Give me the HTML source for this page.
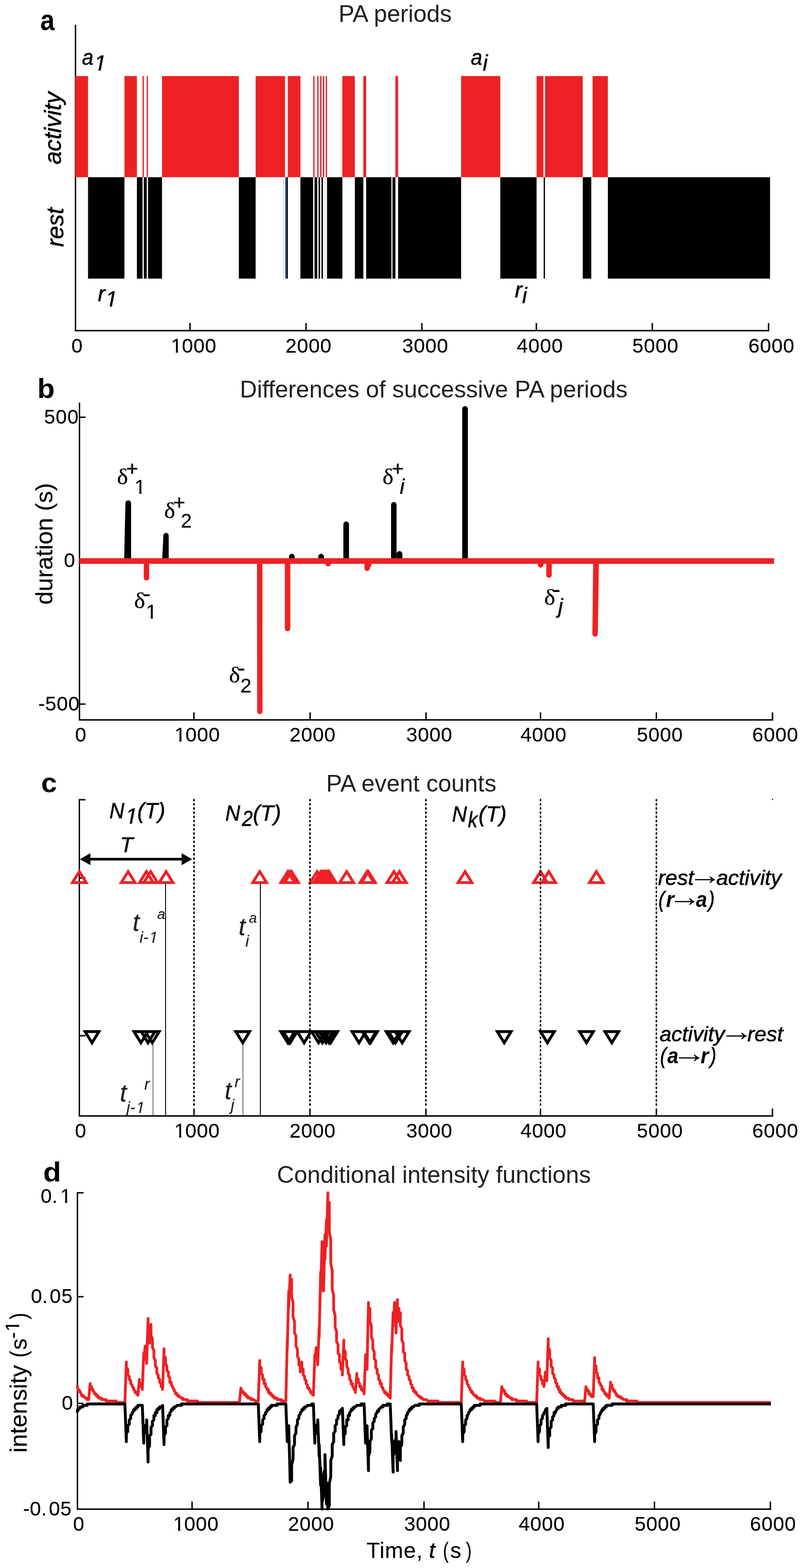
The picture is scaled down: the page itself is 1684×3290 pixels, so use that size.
<!DOCTYPE html>
<html lang="en"><head><meta charset="utf-8"><title>PA periods figure</title>
<style>
html,body{margin:0;padding:0;background:#fff}
svg{display:block}
text{font-family:"Liberation Sans", Arial, Helvetica, sans-serif;white-space:pre}
.sf{font-family:"Liberation Serif", "Times New Roman", serif}
</style></head>
<body>
<svg width="1684" height="3290" viewBox="0 0 1684 3290" shape-rendering="geometricPrecision">
<defs><clipPath id="c1"><path d="M-5 -80H60V-10H34.8V3H24.2V-10H-5Z"/></clipPath></defs>
<rect width="1684" height="3290" fill="#fff"/>
<g id="panel-a">
<line x1="158.3" y1="51.9" x2="158.3" y2="695.3" stroke="#000" stroke-width="2.9"/>
<line x1="156.85" y1="693.8" x2="1613.3" y2="693.8" stroke="#000" stroke-width="3"/>
<line x1="398.5" y1="677.8" x2="398.5" y2="693.8" stroke="#000" stroke-width="3"/>
<line x1="641.8" y1="677.8" x2="641.8" y2="693.8" stroke="#000" stroke-width="3"/>
<line x1="884.8" y1="677.8" x2="884.8" y2="693.8" stroke="#000" stroke-width="3"/>
<line x1="1124.8" y1="677.8" x2="1124.8" y2="693.8" stroke="#000" stroke-width="3"/>
<line x1="1368" y1="677.8" x2="1368" y2="693.8" stroke="#000" stroke-width="3"/>
<line x1="1611.8" y1="677.8" x2="1611.8" y2="693.8" stroke="#000" stroke-width="3"/>
<rect x="157.7" y="159.6" width="26.9" height="212.2" fill="#ed2124"/>
<rect x="261" y="159.6" width="26.1" height="212.2" fill="#ed2124"/>
<rect x="298.9" y="159.6" width="2.7" height="212.2" fill="#ed2124"/>
<rect x="307.7" y="159.6" width="2.7" height="212.2" fill="#ed2124"/>
<rect x="339.8" y="159.6" width="161.1" height="212.2" fill="#ed2124"/>
<rect x="536.1" y="159.6" width="61.6" height="212.2" fill="#ed2124"/>
<rect x="603.6" y="159.6" width="26.4" height="212.2" fill="#ed2124"/>
<rect x="656.7" y="159.6" width="2.9" height="212.2" fill="#ed2124"/>
<rect x="665.3" y="159.6" width="2.8" height="212.2" fill="#ed2124"/>
<rect x="671.3" y="159.6" width="2.9" height="212.2" fill="#ed2124"/>
<rect x="677.2" y="159.6" width="2.9" height="212.2" fill="#ed2124"/>
<rect x="683" y="159.6" width="2.8" height="212.2" fill="#ed2124"/>
<rect x="718" y="159.6" width="26.2" height="212.2" fill="#ed2124"/>
<rect x="762" y="159.6" width="5.9" height="212.2" fill="#ed2124"/>
<rect x="829.2" y="159.6" width="5.7" height="212.2" fill="#ed2124"/>
<rect x="967" y="159.6" width="82.2" height="212.2" fill="#ed2124"/>
<rect x="1125.3" y="159.6" width="14.3" height="212.2" fill="#ed2124"/>
<rect x="1142.9" y="159.6" width="79.2" height="212.2" fill="#ed2124"/>
<rect x="1242.7" y="159.6" width="32.1" height="212.2" fill="#ed2124"/>
<rect x="184.6" y="371.8" width="76.4" height="212.8" fill="#000"/>
<rect x="287.1" y="371.8" width="11.8" height="212.8" fill="#000"/>
<rect x="301.6" y="371.8" width="6.1" height="212.8" fill="#000"/>
<rect x="310.4" y="371.8" width="29.4" height="212.8" fill="#000"/>
<rect x="500.9" y="371.8" width="35.2" height="212.8" fill="#000"/>
<rect x="600.9" y="371.8" width="2.7" height="212.8" fill="#000"/>
<rect x="630" y="371.8" width="26.7" height="212.8" fill="#000"/>
<rect x="659.6" y="371.8" width="5.7" height="212.8" fill="#000"/>
<rect x="668.1" y="371.8" width="3.2" height="212.8" fill="#000"/>
<rect x="674.2" y="371.8" width="3" height="212.8" fill="#000"/>
<rect x="685.8" y="371.8" width="32.2" height="212.8" fill="#000"/>
<rect x="744.2" y="371.8" width="17.8" height="212.8" fill="#000"/>
<rect x="767.9" y="371.8" width="52.9" height="212.8" fill="#000"/>
<rect x="823.1" y="371.8" width="6.1" height="212.8" fill="#000"/>
<rect x="834.9" y="371.8" width="132.1" height="212.8" fill="#000"/>
<rect x="1049.2" y="371.8" width="76.1" height="212.8" fill="#000"/>
<rect x="1140.2" y="371.8" width="2.7" height="212.8" fill="#000"/>
<rect x="1222.1" y="371.8" width="17.9" height="212.8" fill="#000"/>
<rect x="1274.8" y="371.8" width="340.1" height="212.8" fill="#000"/>
<rect x="598" y="371.8" width="2.9" height="212.8" fill="#3953a4"/>
<rect x="594" y="371.8" width="0.7" height="212.8" fill="#9a9a9a"/>
<rect x="680.2" y="371.8" width="0.4" height="212.8" fill="#9a9a9a"/>
<rect x="682.6" y="371.8" width="0.4" height="212.8" fill="#9a9a9a"/>
<rect x="818.6" y="159.6" width="0.6" height="212.2" fill="#d5e6d0"/>
<text transform="translate(84.59 62.6) scale(0.89 1)" font-size="60.5" font-weight="bold">a</text>
<text x="709.99" y="45.9" font-size="49.86" fill="#231f20">PA periods</text>
<text transform="translate(128.3 345.12) rotate(-90)" font-size="49.82" font-style="italic" stroke="#000" stroke-width="0.7" stroke-linejoin="round">activity</text>
<text transform="translate(133 517.96) rotate(-90)" font-size="49.26" font-style="italic" stroke="#000" stroke-width="0.7" stroke-linejoin="round">rest</text>
<text transform="translate(172.04 136) scale(0.93 1)" font-size="46" font-style="italic" stroke="#000" stroke-width="0.7" stroke-linejoin="round">a</text>
<g transform="translate(195.27 147.8) skewX(-11) scale(0.4600)"><text font-size="100" clip-path="url(#c1)" stroke="#000" stroke-width="1.52">1</text></g>
<text transform="translate(987.54 136) scale(0.93 1)" font-size="46" font-style="italic" stroke="#000" stroke-width="0.7" stroke-linejoin="round">a</text>
<text x="1012.41" y="147.6" font-size="46" font-style="italic" stroke="#000" stroke-width="0.7" stroke-linejoin="round">i</text>
<text x="205.29" y="631.9" font-size="46" font-style="italic" stroke="#000" stroke-width="0.7" stroke-linejoin="round">r</text>
<g transform="translate(218.77 643.4) skewX(-11) scale(0.4600)"><text font-size="100" clip-path="url(#c1)" stroke="#000" stroke-width="1.52">1</text></g>
<text x="1079.79" y="624" font-size="46" font-style="italic" stroke="#000" stroke-width="0.7" stroke-linejoin="round">r</text>
<text x="1095.11" y="635.9" font-size="46" font-style="italic" stroke="#000" stroke-width="0.7" stroke-linejoin="round">i</text>
<text x="149.72" y="739.5" font-size="42" letter-spacing="0.9" stroke="#000" stroke-width="0.2" stroke-linejoin="round">0</text>
<g transform="translate(358.52 739.5) scale(0.4200)"><text font-size="100" clip-path="url(#c1)" stroke="#000" stroke-width="0.48">1</text></g>
<text x="381.47" y="739.5" font-size="42" letter-spacing="0.9" stroke="#000" stroke-width="0.2" stroke-linejoin="round">000</text>
<text x="598.7" y="739.5" font-size="42" letter-spacing="0.9" stroke="#000" stroke-width="0.2" stroke-linejoin="round">2000</text>
<text x="843.42" y="739.5" font-size="42" letter-spacing="0.9" stroke="#000" stroke-width="0.2" stroke-linejoin="round">3000</text>
<text x="1083.86" y="739.5" font-size="42" letter-spacing="0.9" stroke="#000" stroke-width="0.2" stroke-linejoin="round">4000</text>
<text x="1326.12" y="739.5" font-size="42" letter-spacing="0.9" stroke="#000" stroke-width="0.2" stroke-linejoin="round">5000</text>
<text x="1569.5" y="739.5" font-size="42" letter-spacing="0.9" stroke="#000" stroke-width="0.2" stroke-linejoin="round">6000</text>
</g>
<g id="panel-b">
<line x1="166.7" y1="844.8" x2="166.7" y2="1511.9" stroke="#000" stroke-width="2.9"/>
<line x1="165.25" y1="1510.4" x2="1621.5" y2="1510.4" stroke="#000" stroke-width="3"/>
<line x1="406.6" y1="1494.6" x2="406.6" y2="1510.4" stroke="#000" stroke-width="3"/>
<line x1="650.4" y1="1494.6" x2="650.4" y2="1510.4" stroke="#000" stroke-width="3"/>
<line x1="893.4" y1="1494.6" x2="893.4" y2="1510.4" stroke="#000" stroke-width="3"/>
<line x1="1133.5" y1="1494.6" x2="1133.5" y2="1510.4" stroke="#000" stroke-width="3"/>
<line x1="1376.5" y1="1494.6" x2="1376.5" y2="1510.4" stroke="#000" stroke-width="3"/>
<line x1="1620" y1="1494.6" x2="1620" y2="1510.4" stroke="#000" stroke-width="3"/>
<line x1="166.7" y1="875.5" x2="179.4" y2="875.5" stroke="#000" stroke-width="3"/>
<line x1="166.7" y1="1477.3" x2="179.4" y2="1477.3" stroke="#000" stroke-width="3"/>
<path d="M260.3 1177.1 L263 1055.75 A5.95 5.95 0 0 1 274.9 1055.75 L274.9 1177.1 Z" fill="#000"/>
<path d="M339.9 1177.1 L342.6 1123.7 A5.6 5.6 0 0 1 353.8 1123.7 L353.8 1177.1 Z" fill="#000"/>
<path d="M606 1177.1 L606 1167.85 A5.95 5.95 0 0 1 617.9 1167.85 L617.9 1177.1 Z" fill="#000"/>
<path d="M667.4 1177.1 L667.4 1167.85 A5.95 5.95 0 0 1 679.3 1167.85 L679.3 1177.1 Z" fill="#000"/>
<path d="M720.1 1177.1 L720.1 1100 A5.9 5.9 0 0 1 731.9 1100 L731.9 1177.1 Z" fill="#000"/>
<path d="M820.1 1177.1 L820.1 1059 A5.8 5.8 0 0 1 831.7 1059 L831.7 1177.1 Z" fill="#000"/>
<path d="M831.7 1177.1 L831.7 1162.35 A6.05 6.05 0 0 1 843.8 1162.35 L843.8 1177.1 Z" fill="#000"/>
<path d="M969.3 1177.1 L969.3 858.05 A5.95 5.95 0 0 1 981.2 858.05 L981.2 1177.1 Z" fill="#000"/>
<rect x="166.4" y="1171.2" width="1456.9" height="11.8" fill="#ed2124"/>
<path d="M301.5 1177.1 L301.5 1212.45 A5.65 5.65 0 0 0 312.8 1212.45 L312.8 1177.1 Z" fill="#ed2124"/>
<path d="M538.9 1177.1 L539.4 1492.95 A5.55 5.55 0 0 0 550.5 1492.95 L550.3 1177.1 Z" fill="#ed2124"/>
<path d="M597.4 1177.1 L597.4 1318.8 A5.7 5.7 0 0 0 608.8 1318.8 L608.8 1177.1 Z" fill="#ed2124"/>
<path d="M682.2 1177.1 L682.2 1182.55 A5.95 5.95 0 0 0 694.1 1182.55 L694.1 1177.1 Z" fill="#ed2124"/>
<path d="M764.3 1177.1 L764.3 1192.3 A5.7 5.7 0 0 0 775.7 1192.3 L775.7 1177.1 Z" fill="#ed2124"/>
<path d="M767.5 1177.1 L767.5 1185.3 A5.7 5.7 0 0 0 778.9 1185.3 L778.9 1177.1 Z" fill="#ed2124"/>
<path d="M1127.9 1177.1 L1127.9 1185.2 A5.8 5.8 0 0 0 1139.5 1185.2 L1139.5 1177.1 Z" fill="#ed2124"/>
<path d="M1145.5 1177.1 L1145.5 1206.4 A5.8 5.8 0 0 0 1157.1 1206.4 L1157.1 1177.1 Z" fill="#ed2124"/>
<path d="M1244 1177.1 L1242.3 1330.2 A5.7 5.7 0 0 0 1253.7 1330.2 L1256 1177.1 Z" fill="#ed2124"/>
<text transform="translate(78.22 834.7) scale(1.03 1)" font-size="58" font-weight="bold">b</text>
<text x="503" y="834.4" font-size="49.71" fill="#231f20">Differences of successive PA periods</text>
<text x="92.62" y="888.8" font-size="42" letter-spacing="0.9" stroke="#000" stroke-width="0.2" stroke-linejoin="round">500</text>
<text x="134.12" y="1190" font-size="42" letter-spacing="0.9" stroke="#000" stroke-width="0.2" stroke-linejoin="round">0</text>
<text x="80.31" y="1491.3" font-size="42" stroke="#000" stroke-width="0.2" stroke-linejoin="round">-</text>
<text x="94.72" y="1491.3" font-size="42" letter-spacing="0.9" stroke="#000" stroke-width="0.2" stroke-linejoin="round">500</text>
<text transform="translate(110 1268.75) rotate(-90)" font-size="50.49" stroke="#000" stroke-width="0.2" stroke-linejoin="round">duration (s)</text>
<text x="157.52" y="1555.9" font-size="42" letter-spacing="0.9" stroke="#000" stroke-width="0.2" stroke-linejoin="round">0</text>
<g transform="translate(366.02 1555.9) scale(0.4200)"><text font-size="100" clip-path="url(#c1)" stroke="#000" stroke-width="0.48">1</text></g>
<text x="388.97" y="1555.9" font-size="42" letter-spacing="0.9" stroke="#000" stroke-width="0.2" stroke-linejoin="round">000</text>
<text x="607.3" y="1555.9" font-size="42" letter-spacing="0.9" stroke="#000" stroke-width="0.2" stroke-linejoin="round">2000</text>
<text x="851.92" y="1555.9" font-size="42" letter-spacing="0.9" stroke="#000" stroke-width="0.2" stroke-linejoin="round">3000</text>
<text x="1091.46" y="1555.9" font-size="42" letter-spacing="0.9" stroke="#000" stroke-width="0.2" stroke-linejoin="round">4000</text>
<text x="1335.42" y="1555.9" font-size="42" letter-spacing="0.9" stroke="#000" stroke-width="0.2" stroke-linejoin="round">5000</text>
<text x="1577.5" y="1555.9" font-size="42" letter-spacing="0.9" stroke="#000" stroke-width="0.2" stroke-linejoin="round">6000</text>
<text transform="translate(245.25 1015.5) scale(1.07 1)" font-size="46" class="sf" stroke="#000" stroke-width="0.3" stroke-linejoin="round">δ</text>
<text x="264.86" y="997.64" font-size="43" stroke="#000" stroke-width="0.6" stroke-linejoin="round">+</text>
<g transform="translate(282.02 1036.1) scale(0.4200)"><text font-size="100" clip-path="url(#c1)" stroke="#000" stroke-width="0.48">1</text></g>
<text transform="translate(344.15 1086.5) scale(1.07 1)" font-size="46" class="sf" stroke="#000" stroke-width="0.3" stroke-linejoin="round">δ</text>
<text x="363.36" y="1068.64" font-size="43" stroke="#000" stroke-width="0.6" stroke-linejoin="round">+</text>
<text x="379.1" y="1107.1" font-size="42" stroke="#000" stroke-width="0.2" stroke-linejoin="round">2</text>
<text transform="translate(281.15 1275.7) scale(1.07 1)" font-size="46" class="sf" stroke="#000" stroke-width="0.3" stroke-linejoin="round">δ</text>
<text x="298.86" y="1262.93" font-size="52">-</text>
<g transform="translate(305.92 1297.7) scale(0.4200)"><text font-size="100" clip-path="url(#c1)" stroke="#000" stroke-width="0.48">1</text></g>
<text transform="translate(480.25 1432.1) scale(1.07 1)" font-size="46" class="sf" stroke="#000" stroke-width="0.3" stroke-linejoin="round">δ</text>
<text x="497.26" y="1418.83" font-size="52">-</text>
<text x="503.9" y="1453.4" font-size="42" stroke="#000" stroke-width="0.2" stroke-linejoin="round">2</text>
<text transform="translate(801.95 1016.1) scale(1.07 1)" font-size="46" class="sf" stroke="#000" stroke-width="0.3" stroke-linejoin="round">δ</text>
<text x="821.76" y="998.24" font-size="43" stroke="#000" stroke-width="0.6" stroke-linejoin="round">+</text>
<text x="838.55" y="1035.6" font-size="43.5" font-style="italic" stroke="#000" stroke-width="0.7" stroke-linejoin="round">i</text>
<text transform="translate(1141.25 1268.5) scale(1.07 1)" font-size="46" class="sf" stroke="#000" stroke-width="0.3" stroke-linejoin="round">δ</text>
<text x="1158.36" y="1253.73" font-size="52">-</text>
<text x="1170.79" y="1286.6" font-size="43.5" font-style="italic" stroke="#000" stroke-width="0.7" stroke-linejoin="round">j</text>
</g>
<g id="panel-c">
<line x1="166.4" y1="1676.5" x2="166.4" y2="2343.1" stroke="#000" stroke-width="2.9"/>
<line x1="164.95" y1="2341.6" x2="1621.5" y2="2341.6" stroke="#000" stroke-width="3"/>
<line x1="406.8" y1="2325.9" x2="406.8" y2="2341.6" stroke="#000" stroke-width="3"/>
<line x1="650" y1="2325.9" x2="650" y2="2341.6" stroke="#000" stroke-width="3"/>
<line x1="893.2" y1="2325.9" x2="893.2" y2="2341.6" stroke="#000" stroke-width="3"/>
<line x1="1133.5" y1="2325.9" x2="1133.5" y2="2341.6" stroke="#000" stroke-width="3"/>
<line x1="1376.5" y1="2325.9" x2="1376.5" y2="2341.6" stroke="#000" stroke-width="3"/>
<line x1="1620" y1="2325.9" x2="1620" y2="2341.6" stroke="#000" stroke-width="3"/>
<line x1="166.4" y1="1678" x2="179.3" y2="1678" stroke="#000" stroke-width="3"/>
<line x1="166.4" y1="1842.1" x2="179.3" y2="1842.1" stroke="#000" stroke-width="3"/>
<line x1="166.4" y1="2173.1" x2="179.3" y2="2173.1" stroke="#000" stroke-width="3"/>
<rect x="1618.9" y="1676.2" width="2.2" height="2.2" fill="#000"/>
<line x1="347.2" y1="1850.5" x2="347.2" y2="2341" stroke="#000" stroke-width="1.9"/>
<line x1="546" y1="1850.5" x2="546" y2="2341" stroke="#000" stroke-width="1.9"/>
<line x1="320.8" y1="2190" x2="320.8" y2="2341" stroke="#222" stroke-width="1.2"/>
<line x1="509.5" y1="2190" x2="509.5" y2="2341" stroke="#222" stroke-width="1.2"/>
<path d="M166.4 1828.65L180.9 1851.95L151.9 1851.95ZM268.7 1828.65L283.2 1851.95L254.2 1851.95ZM307 1828.65L321.5 1851.95L292.5 1851.95ZM316 1828.65L330.5 1851.95L301.5 1851.95ZM348.3 1828.65L362.8 1851.95L333.8 1851.95ZM544.6 1828.65L559.1 1851.95L530.1 1851.95ZM603.5 1828.65L618 1851.95L589 1851.95ZM607.5 1828.65L622 1851.95L593 1851.95ZM611.5 1828.65L626 1851.95L597 1851.95ZM665 1828.65L679.5 1851.95L650.5 1851.95ZM672.6 1828.65L687.1 1851.95L658.1 1851.95ZM676.5 1828.65L691 1851.95L662 1851.95ZM680.2 1828.65L694.7 1851.95L665.7 1851.95ZM683.8 1828.65L698.3 1851.95L669.3 1851.95ZM687.7 1828.65L702.2 1851.95L673.2 1851.95ZM690.2 1828.65L704.7 1851.95L675.7 1851.95ZM727 1828.65L741.5 1851.95L712.5 1851.95ZM769.6 1828.65L784.1 1851.95L755.1 1851.95ZM772.6 1828.65L787.1 1851.95L758.1 1851.95ZM826 1828.65L840.5 1851.95L811.5 1851.95ZM837.5 1828.65L852 1851.95L823 1851.95ZM975.2 1828.65L989.7 1851.95L960.7 1851.95ZM1133.5 1828.65L1148 1851.95L1119 1851.95ZM1150.8 1828.65L1165.3 1851.95L1136.3 1851.95ZM1250.6 1828.65L1265.1 1851.95L1236.1 1851.95Z" fill="none" stroke="#ed2124" stroke-width="5.8" stroke-linejoin="miter" stroke-miterlimit="10"/>
<line x1="406.8" y1="1677.5" x2="406.8" y2="2324.5" stroke="#000" stroke-width="3.2" stroke-dasharray="2.6 6.15" stroke-linecap="round"/>
<line x1="650" y1="1677.5" x2="650" y2="2324.5" stroke="#000" stroke-width="3.2" stroke-dasharray="2.6 6.15" stroke-linecap="round"/>
<line x1="893.2" y1="1677.5" x2="893.2" y2="2324.5" stroke="#000" stroke-width="3.2" stroke-dasharray="2.6 6.15" stroke-linecap="round"/>
<line x1="1133.5" y1="1677.5" x2="1133.5" y2="2324.5" stroke="#000" stroke-width="3.2" stroke-dasharray="2.6 6.15" stroke-linecap="round"/>
<line x1="1376.5" y1="1677.5" x2="1376.5" y2="2324.5" stroke="#000" stroke-width="3.2" stroke-dasharray="2.6 6.15" stroke-linecap="round"/>
<path d="M192.9 2188L178.4 2164.6L207.4 2164.6ZM295.5 2188L281 2164.6L310 2164.6ZM310.4 2188L295.9 2164.6L324.9 2164.6ZM319.3 2188L304.8 2164.6L333.8 2164.6ZM509.1 2188L494.6 2164.6L523.6 2164.6ZM603.4 2188L588.9 2164.6L617.9 2164.6ZM606.4 2188L591.9 2164.6L620.9 2164.6ZM608.6 2188L594.1 2164.6L623.1 2164.6ZM637.7 2188L623.2 2164.6L652.2 2164.6ZM668 2188L653.5 2164.6L682.5 2164.6ZM676.2 2188L661.7 2164.6L690.7 2164.6ZM683.8 2188L669.3 2164.6L698.3 2164.6ZM689.8 2188L675.3 2164.6L704.3 2164.6ZM693.5 2188L679 2164.6L708 2164.6ZM752.8 2188L738.3 2164.6L767.3 2164.6ZM774.5 2188L760 2164.6L789 2164.6ZM777 2188L762.5 2164.6L791.5 2164.6ZM824.3 2188L809.8 2164.6L838.8 2164.6ZM829.3 2188L814.8 2164.6L843.8 2164.6ZM843.5 2188L829 2164.6L858 2164.6ZM1057.4 2188L1042.9 2164.6L1071.9 2164.6ZM1148 2188L1133.5 2164.6L1162.5 2164.6ZM1229.9 2188L1215.4 2164.6L1244.4 2164.6ZM1283 2188L1268.5 2164.6L1297.5 2164.6Z" fill="none" stroke="#000" stroke-width="6.0" stroke-linejoin="miter" stroke-miterlimit="10"/>
<path d="M167.5 1802.7L189.6 1790.2L189.6 1815.3ZM402.9 1802.7L380.9 1790.2L380.9 1815.3Z" fill="#000"/>
<line x1="188" y1="1802.7" x2="382" y2="1802.7" stroke="#000" stroke-width="5.6"/>
<text transform="translate(86.31 1661.6) scale(1.03 1)" font-size="58" font-weight="bold">c</text>
<text x="684.08" y="1660.7" font-size="49.88" fill="#231f20">PA event counts</text>
<text transform="translate(229.6 1717.1) scale(0.94 1)" font-size="46" font-style="italic" stroke="#000" stroke-width="0.7" stroke-linejoin="round">N</text>
<g transform="translate(260.77 1728.3) skewX(-11) scale(0.4600)"><text font-size="100" clip-path="url(#c1)" stroke="#000" stroke-width="1.52">1</text></g>
<text x="287.92" y="1717.1" font-size="46" font-style="italic" stroke="#000" stroke-width="0.7" stroke-linejoin="round">(T)</text>
<text transform="translate(472.5 1722.2) scale(0.94 1)" font-size="46" font-style="italic" stroke="#000" stroke-width="0.7" stroke-linejoin="round">N</text>
<text transform="translate(507.5 1733.4) scale(0.88 1)" font-size="46" font-style="italic" stroke="#000" stroke-width="0.7" stroke-linejoin="round">2</text>
<text x="530.52" y="1722.2" font-size="46" font-style="italic" stroke="#000" stroke-width="0.7" stroke-linejoin="round">(T)</text>
<text transform="translate(947.9 1724.4) scale(0.94 1)" font-size="46" font-style="italic" stroke="#000" stroke-width="0.7" stroke-linejoin="round">N</text>
<text transform="translate(981.29 1735.6) scale(0.88 1)" font-size="46" font-style="italic" stroke="#000" stroke-width="0.7" stroke-linejoin="round">k</text>
<text x="1003.62" y="1724.4" font-size="46" font-style="italic" stroke="#000" stroke-width="0.7" stroke-linejoin="round">(T)</text>
<text x="251.65" y="1788.1" font-size="45" font-style="italic" stroke="#000" stroke-width="0.7" stroke-linejoin="round">T</text>
<text x="278.2" y="1953.4" font-size="51" font-style="italic" fill="#231f20" stroke="#231f20" stroke-width="0.4" stroke-linejoin="round">t</text>
<text x="292.81" y="1977.7" font-size="33" font-style="italic" fill="#231f20" stroke="#231f20" stroke-width="0.3" stroke-linejoin="round">i-</text>
<g transform="translate(311.13 1977.7) skewX(-11) scale(0.3300)"><text font-size="100" clip-path="url(#c1)" fill="#231f20" stroke="#231f20" stroke-width="0.91">1</text></g>
<text x="329.72" y="1927.6" font-size="30" font-style="italic" fill="#231f20" stroke="#231f20" stroke-width="0.3" stroke-linejoin="round">a</text>
<text x="500.6" y="1961.6" font-size="51" font-style="italic" fill="#231f20" stroke="#231f20" stroke-width="0.4" stroke-linejoin="round">t</text>
<text x="514.71" y="1985.9" font-size="33" font-style="italic" fill="#231f20" stroke="#231f20" stroke-width="0.3" stroke-linejoin="round">i</text>
<text x="521.93" y="1936.3" font-size="30" font-style="italic" fill="#231f20" stroke="#231f20" stroke-width="0.3" stroke-linejoin="round">a</text>
<text x="251.51" y="2311.3" font-size="51" font-style="italic" fill="#231f20" stroke="#231f20" stroke-width="0.4" stroke-linejoin="round">t</text>
<text x="265.31" y="2335.3" font-size="33" font-style="italic" fill="#231f20" stroke="#231f20" stroke-width="0.3" stroke-linejoin="round">j-</text>
<g transform="translate(283.63 2335.3) skewX(-11) scale(0.3300)"><text font-size="100" clip-path="url(#c1)" fill="#231f20" stroke="#231f20" stroke-width="0.91">1</text></g>
<text x="302.72" y="2286.1" font-size="33" font-style="italic" fill="#231f20" stroke="#231f20" stroke-width="0.3" stroke-linejoin="round">r</text>
<text x="471.2" y="2306.1" font-size="51" font-style="italic" fill="#231f20" stroke="#231f20" stroke-width="0.4" stroke-linejoin="round">t</text>
<text x="484.01" y="2329.7" font-size="33" font-style="italic" fill="#231f20" stroke="#231f20" stroke-width="0.3" stroke-linejoin="round">j</text>
<text x="492.12" y="2280.9" font-size="33" font-style="italic" fill="#231f20" stroke="#231f20" stroke-width="0.3" stroke-linejoin="round">r</text>
<text x="1380.11" y="1857.2" font-size="45.1" font-style="italic" stroke="#000" stroke-width="0.7" stroke-linejoin="round">rest</text>
<text transform="translate(1443.55 1855.38) scale(1.24 1)" font-size="57">→</text>
<text x="1502.19" y="1857.2" font-size="44.73" font-style="italic" stroke="#000" stroke-width="0.7" stroke-linejoin="round">activity</text>
<text transform="translate(1380.8 1903.3) scale(0.87 1)" font-size="46" font-style="italic" stroke="#000" stroke-width="0.7" stroke-linejoin="round">(</text>
<text transform="translate(1396.74 1903.3) scale(0.95 1)" font-size="46" font-style="italic" font-weight="bold">r</text>
<text transform="translate(1400.62 1900.88) scale(1.23 1)" font-size="57">→</text>
<text transform="translate(1459.59 1903.3) scale(0.91 1)" font-size="46" font-style="italic" font-weight="bold">a</text>
<text transform="translate(1485.5 1903.3) scale(0.87 1)" font-size="46" font-style="italic" stroke="#000" stroke-width="0.7" stroke-linejoin="round">)</text>
<text x="1383.29" y="2184.6" font-size="44.67" font-style="italic" stroke="#000" stroke-width="0.7" stroke-linejoin="round">activity</text>
<text transform="translate(1508.2 2182.88) scale(1.27 1)" font-size="57">→</text>
<text x="1567.31" y="2184.6" font-size="44.93" font-style="italic" stroke="#000" stroke-width="0.7" stroke-linejoin="round">rest</text>
<text transform="translate(1384.2 2231) scale(0.87 1)" font-size="46" font-style="italic" stroke="#000" stroke-width="0.7" stroke-linejoin="round">(</text>
<text transform="translate(1399.39 2231) scale(0.91 1)" font-size="46" font-style="italic" font-weight="bold">a</text>
<text transform="translate(1408.62 2229.08) scale(1.28 1)" font-size="57">→</text>
<text transform="translate(1469.34 2231) scale(0.95 1)" font-size="46" font-style="italic" font-weight="bold">r</text>
<text transform="translate(1488.9 2231) scale(0.87 1)" font-size="46" font-style="italic" stroke="#000" stroke-width="0.7" stroke-linejoin="round">)</text>
<text x="157.22" y="2387" font-size="42" letter-spacing="0.9" stroke="#000" stroke-width="0.2" stroke-linejoin="round">0</text>
<g transform="translate(365.62 2387) scale(0.4200)"><text font-size="100" clip-path="url(#c1)" stroke="#000" stroke-width="0.48">1</text></g>
<text x="388.57" y="2387" font-size="42" letter-spacing="0.9" stroke="#000" stroke-width="0.2" stroke-linejoin="round">000</text>
<text x="607.3" y="2387" font-size="42" letter-spacing="0.9" stroke="#000" stroke-width="0.2" stroke-linejoin="round">2000</text>
<text x="851.92" y="2387" font-size="42" letter-spacing="0.9" stroke="#000" stroke-width="0.2" stroke-linejoin="round">3000</text>
<text x="1091.46" y="2387" font-size="42" letter-spacing="0.9" stroke="#000" stroke-width="0.2" stroke-linejoin="round">4000</text>
<text x="1335.42" y="2387" font-size="42" letter-spacing="0.9" stroke="#000" stroke-width="0.2" stroke-linejoin="round">5000</text>
<text x="1577.6" y="2387" font-size="42" letter-spacing="0.9" stroke="#000" stroke-width="0.2" stroke-linejoin="round">6000</text>
</g>
<g id="panel-d">
<line x1="162.4" y1="2501.2" x2="162.4" y2="3168.1" stroke="#000" stroke-width="2.9"/>
<line x1="160.95" y1="3166.6" x2="1617.5" y2="3166.6" stroke="#000" stroke-width="3"/>
<line x1="402.8" y1="3150.6" x2="402.8" y2="3166.6" stroke="#000" stroke-width="3"/>
<line x1="645.8" y1="3150.6" x2="645.8" y2="3166.6" stroke="#000" stroke-width="3"/>
<line x1="889.2" y1="3150.6" x2="889.2" y2="3166.6" stroke="#000" stroke-width="3"/>
<line x1="1129.8" y1="3150.6" x2="1129.8" y2="3166.6" stroke="#000" stroke-width="3"/>
<line x1="1372.5" y1="3150.6" x2="1372.5" y2="3166.6" stroke="#000" stroke-width="3"/>
<line x1="1615.6" y1="3150.6" x2="1615.6" y2="3166.6" stroke="#000" stroke-width="3"/>
<line x1="162.4" y1="2502.7" x2="175.2" y2="2502.7" stroke="#000" stroke-width="3"/>
<line x1="162.4" y1="2720.8" x2="175.2" y2="2720.8" stroke="#000" stroke-width="3"/>
<line x1="162.4" y1="2944.7" x2="175.2" y2="2944.7" stroke="#000" stroke-width="3"/>
<path d="M162.4 2906.27L162.4 2912.35L164.64 2915.39L164.64 2918.44L167.68 2918.44L167.68 2921.48L170.72 2924.52L170.72 2927.56L173.76 2927.56L173.76 2930.6L176.8 2930.6L179.84 2933.64L182.88 2933.64L182.88 2936.68L185.92 2936.68L188.96 2903.23L188.96 2909.31L192 2909.31L192 2915.39L195.05 2915.39L195.05 2918.44L198.09 2921.48L198.09 2924.52L201.13 2924.52L201.13 2927.56L204.17 2927.56L204.17 2930.6L207.21 2930.6L207.21 2933.64L213.29 2933.64L213.29 2936.68L222.41 2936.68L222.41 2939.72L243.69 2939.72L243.69 2942.76L261.94 2942.76L264.98 2857.63L264.98 2869.79L268.02 2872.83L268.02 2884.99L271.06 2888.03L271.06 2894.11L274.1 2897.15L274.1 2903.23L277.14 2906.27L277.14 2909.31L280.18 2912.35L280.18 2915.39L283.22 2918.44L283.22 2921.48L286.26 2921.48L286.26 2924.52L289.3 2927.56L292.34 2894.11L292.34 2900.19L295.38 2903.23L295.38 2909.31L298.42 2909.31L298.42 2915.39L301.46 2839.38L301.46 2854.59L304.5 2824.18L304.5 2839.38L307.54 2845.46L307.54 2860.67L310.58 2766.41L310.58 2790.73L313.62 2796.82L313.62 2818.1L316.67 2778.57L316.67 2802.9L319.71 2808.98L319.71 2827.22L322.75 2833.3L322.75 2848.5L325.79 2854.59L325.79 2866.75L328.83 2869.79L328.83 2881.95L331.87 2884.99L331.87 2891.07L334.91 2894.11L334.91 2900.19L337.95 2903.23L337.95 2909.31L340.99 2912.35L340.99 2915.39L344.03 2830.26L344.03 2845.46L347.07 2848.5L347.07 2860.67L350.11 2866.75L350.11 2875.87L353.15 2878.91L353.15 2888.03L356.19 2891.07L356.19 2900.19L359.23 2900.19L359.23 2906.27L362.27 2909.31L362.27 2912.35L365.31 2915.39L365.31 2918.44L368.35 2921.48L368.35 2924.52L371.39 2924.52L371.39 2927.56L374.44 2927.56L374.44 2930.6L377.48 2930.6L380.52 2933.64L383.56 2933.64L383.56 2936.68L392.68 2936.68L392.68 2939.72L413.96 2939.72L413.96 2942.76L502.14 2942.76L505.18 2912.35L505.18 2915.39L508.22 2918.44L508.22 2921.48L511.26 2921.48L511.26 2924.52L514.3 2924.52L514.3 2927.56L517.34 2927.56L517.34 2930.6L520.38 2930.6L520.38 2933.64L526.46 2933.64L526.46 2936.68L532.54 2936.68L535.58 2939.72L541.66 2939.72L544.7 2854.59L544.7 2866.75L547.74 2869.79L547.74 2881.95L550.78 2884.99L550.78 2894.11L553.82 2894.11L553.82 2903.23L556.87 2903.23L556.87 2909.31L559.91 2912.35L559.91 2915.39L562.95 2915.39L562.95 2921.48L565.99 2921.48L565.99 2924.52L569.03 2924.52L569.03 2927.56L572.07 2927.56L572.07 2930.6L575.11 2930.6L575.11 2933.64L581.19 2933.64L581.19 2936.68L590.31 2936.68L590.31 2939.72L599.43 2939.72L602.47 2812.02L602.47 2830.26L605.51 2708.64L605.51 2742.09L608.55 2675.2L608.55 2714.72L611.59 2684.32L611.59 2720.8L614.63 2732.97L614.63 2763.37L617.68 2772.49L617.68 2796.82L620.72 2802.9L620.72 2824.18L623.76 2830.26L623.76 2845.46L626.8 2851.54L626.8 2863.71L629.84 2866.75L629.84 2878.91L632.88 2857.63L632.88 2869.79L635.92 2872.83L635.92 2884.99L638.96 2888.03L638.96 2894.11L642 2897.15L642 2903.23L645.04 2906.27L645.04 2912.35L648.08 2912.35L648.08 2915.39L651.12 2918.44L651.12 2921.48L654.16 2921.48L654.16 2924.52L657.2 2927.56L660.24 2842.42L660.24 2854.59L663.28 2827.22L663.28 2845.46L666.32 2848.5L666.32 2863.71L669.36 2784.65L669.36 2805.94L672.4 2669.11L672.4 2708.64L675.44 2605.26L675.44 2653.91L678.49 2669.11L678.49 2708.64L681.53 2590.06L681.53 2641.75L684.57 2559.66L684.57 2614.39L687.61 2502.7L687.61 2562.7L690.65 2523.17L690.65 2583.98L693.69 2602.22L693.69 2650.87L696.73 2666.07L696.73 2705.6L699.77 2717.76L699.77 2748.17L702.81 2760.33L702.81 2784.65L705.85 2793.78L705.85 2815.06L708.89 2821.14L708.89 2839.38L711.93 2842.42L711.93 2857.63L714.97 2860.67L714.97 2872.83L718.01 2875.87L718.01 2884.99L721.05 2812.02L721.05 2830.26L724.09 2836.34L724.09 2851.54L727.13 2854.59L727.13 2866.75L730.17 2872.83L730.17 2881.95L733.21 2884.99L733.21 2894.11L736.25 2897.15L736.25 2903.23L739.3 2903.23L739.3 2909.31L742.34 2912.35L742.34 2915.39L745.38 2918.44L745.38 2921.48L748.42 2881.95L748.42 2891.07L751.46 2894.11L751.46 2900.19L754.5 2903.23L754.5 2909.31L757.54 2909.31L757.54 2915.39L760.58 2915.39L760.58 2918.44L763.62 2921.48L763.62 2924.52L766.66 2842.42L766.66 2854.59L769.7 2860.67L769.7 2872.83L772.74 2732.97L772.74 2763.37L775.78 2745.13L775.78 2772.49L778.82 2781.61L778.82 2805.94L781.86 2812.02L781.86 2830.26L784.9 2836.34L784.9 2851.54L787.94 2854.59L787.94 2869.79L790.98 2872.83L790.98 2881.95L794.02 2884.99L794.02 2894.11L797.06 2897.15L797.06 2903.23L800.11 2903.23L800.11 2909.31L803.15 2912.35L803.15 2915.39L806.19 2918.44L806.19 2921.48L809.23 2921.48L809.23 2924.52L812.27 2924.52L812.27 2927.56L815.31 2927.56L815.31 2930.6L818.35 2930.6L818.35 2933.64L821.39 2821.14L821.39 2839.38L824.43 2754.25L824.43 2781.61L827.47 2732.97L827.47 2763.37L830.51 2772.49L830.51 2796.82L833.55 2726.88L833.55 2757.29L836.59 2745.13L836.59 2772.49L839.63 2754.25L839.63 2781.61L842.67 2787.69L842.67 2812.02L845.71 2818.1L845.71 2836.34L848.75 2839.38L848.75 2854.59L851.79 2860.67L851.79 2872.83L854.83 2875.87L854.83 2884.99L857.87 2888.03L857.87 2894.11L860.92 2897.15L860.92 2903.23L863.96 2906.27L863.96 2912.35L867 2912.35L867 2918.44L870.04 2918.44L870.04 2921.48L873.08 2921.48L873.08 2924.52L876.12 2927.56L879.16 2930.6L882.2 2930.6L882.2 2933.64L885.24 2933.64L888.28 2936.68L894.36 2936.68L897.4 2939.72L918.68 2939.72L918.68 2942.76L967.33 2942.76L970.37 2857.63L970.37 2869.79L973.41 2872.83L973.41 2884.99L976.45 2888.03L976.45 2894.11L979.49 2897.15L979.49 2903.23L982.54 2906.27L982.54 2909.31L985.58 2912.35L985.58 2915.39L988.62 2918.44L988.62 2921.48L991.66 2921.48L991.66 2924.52L994.7 2927.56L997.74 2927.56L997.74 2930.6L1000.78 2930.6L1000.78 2933.64L1006.86 2933.64L1006.86 2936.68L1012.94 2936.68L1015.98 2939.72L1037.26 2939.72L1037.26 2942.76L1049.43 2942.76L1052.47 2909.31L1052.47 2912.35L1055.51 2915.39L1055.51 2918.44L1058.55 2918.44L1058.55 2924.52L1061.59 2924.52L1061.59 2927.56L1064.63 2927.56L1064.63 2930.6L1067.67 2930.6L1070.71 2933.64L1073.75 2933.64L1073.75 2936.68L1082.87 2936.68L1082.87 2939.72L1104.15 2939.72L1104.15 2942.76L1125.44 2942.76L1128.48 2857.63L1128.48 2869.79L1131.52 2872.83L1131.52 2884.99L1134.56 2888.03L1134.56 2894.11L1137.6 2897.15L1137.6 2903.23L1140.64 2906.27L1140.64 2909.31L1143.68 2878.91L1143.68 2888.03L1146.72 2891.07L1146.72 2897.15L1149.76 2808.98L1149.76 2827.22L1152.8 2833.3L1152.8 2848.5L1155.84 2854.59L1155.84 2866.75L1158.88 2869.79L1158.88 2881.95L1161.92 2884.99L1161.92 2891.07L1164.97 2894.11L1164.97 2900.19L1168.01 2903.23L1168.01 2909.31L1171.05 2909.31L1171.05 2915.39L1174.09 2915.39L1174.09 2921.48L1177.13 2921.48L1177.13 2924.52L1180.17 2924.52L1180.17 2927.56L1183.21 2927.56L1183.21 2930.6L1186.25 2930.6L1186.25 2933.64L1192.33 2933.64L1192.33 2936.68L1201.45 2936.68L1201.45 2939.72L1222.73 2939.72L1222.73 2942.76L1225.78 2942.76L1228.82 2909.31L1228.82 2912.35L1231.86 2915.39L1231.86 2918.44L1234.9 2918.44L1234.9 2924.52L1237.94 2924.52L1237.94 2927.56L1240.98 2927.56L1240.98 2930.6L1244.02 2930.6L1247.06 2848.5L1247.06 2863.71L1250.1 2866.75L1250.1 2878.91L1253.14 2881.95L1253.14 2891.07L1256.18 2891.07L1256.18 2900.19L1259.22 2903.23L1259.22 2906.27L1262.26 2909.31L1262.26 2915.39L1265.3 2915.39L1265.3 2918.44L1268.34 2921.48L1268.34 2924.52L1271.38 2924.52L1271.38 2927.56L1274.42 2927.56L1274.42 2930.6L1277.46 2930.6L1277.46 2933.64L1280.5 2900.19L1280.5 2906.27L1283.54 2906.27L1283.54 2912.35L1286.59 2915.39L1286.59 2918.44L1289.63 2918.44L1289.63 2921.48L1292.67 2924.52L1292.67 2927.56L1295.71 2927.56L1295.71 2930.6L1301.79 2930.6L1301.79 2933.64L1304.83 2933.64L1307.87 2936.68L1313.95 2936.68L1313.95 2939.72L1335.23 2939.72L1338.27 2942.76L1614.96 2942.76L1616.5 2942.76" fill="none" stroke="#ed2124" stroke-width="5.8" stroke-linejoin="round" stroke-linecap="butt"/>
<path d="M162.4 2964.04L162.4 2957.96L164.64 2957.96L164.64 2954.92L167.68 2954.92L167.68 2951.88L173.76 2951.88L173.76 2948.84L182.88 2948.84L182.88 2945.8L261.94 2945.8L264.98 3024.85L264.98 3006.61L268.02 3003.57L268.02 2991.41L271.06 2988.37L271.06 2979.25L274.1 2976.21L274.1 2970.12L277.14 2967.08L277.14 2964.04L280.18 2961L280.18 2957.96L283.22 2957.96L283.22 2954.92L286.26 2954.92L286.26 2951.88L289.3 2951.88L289.3 2948.84L298.42 2948.84L301.46 3027.89L301.46 3009.65L304.5 3003.57L304.5 2991.41L307.54 2988.37L307.54 2979.25L310.58 3067.42L310.58 3040.06L313.62 3033.97L313.62 3012.69L316.67 3009.65L316.67 2994.45L319.71 2991.41L319.71 2982.29L322.75 2979.25L322.75 2970.12L325.79 2970.12L325.79 2964.04L328.83 2964.04L328.83 2957.96L331.87 2957.96L331.87 2954.92L334.91 2954.92L334.91 2951.88L337.95 2951.88L340.99 2948.84L344.03 3030.93L344.03 3012.69L347.07 3006.61L347.07 2994.45L350.11 2991.41L350.11 2979.25L353.15 2976.21L353.15 2970.12L356.19 2970.12L356.19 2964.04L359.23 2961L359.23 2957.96L362.27 2957.96L362.27 2954.92L365.31 2954.92L365.31 2951.88L368.35 2951.88L371.39 2948.84L380.52 2948.84L380.52 2945.8L541.66 2945.8L544.7 3024.85L544.7 3006.61L547.74 3003.57L547.74 2991.41L550.78 2988.37L550.78 2979.25L553.82 2976.21L553.82 2970.12L556.87 2967.08L556.87 2964.04L559.91 2961L559.91 2957.96L562.95 2957.96L562.95 2954.92L565.99 2954.92L565.99 2951.88L569.03 2951.88L569.03 2948.84L581.19 2948.84L581.19 2945.8L599.43 2945.8L602.47 3024.85L602.47 3006.61L605.51 3003.57L605.51 2991.41L608.55 3109.99L608.55 3076.54L611.59 3106.95L611.59 3073.5L614.63 3061.34L614.63 3037.02L617.68 3030.93L617.68 3012.69L620.72 3006.61L620.72 2994.45L623.76 2988.37L623.76 2979.25L626.8 2976.21L626.8 2970.12L629.84 2967.08L629.84 2964.04L632.88 2961L632.88 2957.96L635.92 2957.96L635.92 2954.92L638.96 2954.92L638.96 2951.88L642 2951.88L645.04 2948.84L654.16 2948.84L654.16 2945.8L657.2 2945.8L660.24 3027.89L660.24 3009.65L663.28 3006.61L663.28 2991.41L666.32 2988.37L666.32 2979.25L669.36 3055.26L669.36 3030.93L672.4 3116.07L672.4 3079.58L675.44 3166.3L675.44 3152.55L678.49 3137.35L678.49 3094.78L681.53 3082.62L681.53 3052.22L684.57 3155.59L684.57 3109.99L687.61 3166.3L690.65 3158.64L690.65 3113.03L693.69 3097.83L693.69 3064.38L696.73 3055.26L696.73 3030.93L699.77 3024.85L699.77 3006.61L702.81 3003.57L702.81 2991.41L705.85 2988.37L705.85 2979.25L708.89 2976.21L708.89 2970.12L711.93 2967.08L711.93 2961L714.97 2961L714.97 2957.96L718.01 2957.96L718.01 2954.92L721.05 3030.93L721.05 3012.69L724.09 3006.61L724.09 2994.45L727.13 2991.41L727.13 2979.25L730.17 2979.25L730.17 2970.12L733.21 2970.12L733.21 2964.04L736.25 2961L736.25 2957.96L739.3 2957.96L739.3 2954.92L742.34 2954.92L742.34 2951.88L745.38 2951.88L748.42 2948.84L757.54 2948.84L757.54 2945.8L763.62 2945.8L766.66 3027.89L766.66 3009.65L769.7 3003.57L769.7 2991.41L772.74 3085.66L772.74 3055.26L775.78 3046.14L775.78 3024.85L778.82 3018.77L778.82 3000.53L781.86 2997.49L781.86 2985.33L784.9 2982.29L784.9 2976.21L787.94 2973.16L787.94 2967.08L790.98 2964.04L790.98 2961L794.02 2961L794.02 2957.96L797.06 2954.92L800.11 2951.88L803.15 2951.88L803.15 2948.84L812.27 2948.84L812.27 2945.8L818.35 2945.8L821.39 3024.85L821.39 3009.65L824.43 3088.7L824.43 3055.26L827.47 3046.14L827.47 3024.85L830.51 3018.77L830.51 3003.57L833.55 3085.66L833.55 3055.26L836.59 3046.14L836.59 3024.85L839.63 3064.38L839.63 3037.02L842.67 3030.93L842.67 3012.69L845.71 3006.61L845.71 2994.45L848.75 2988.37L848.75 2979.25L851.79 2976.21L851.79 2970.12L854.83 2967.08L854.83 2964.04L857.87 2961L857.87 2957.96L860.92 2957.96L860.92 2954.92L863.96 2954.92L863.96 2951.88L867 2951.88L870.04 2948.84L879.16 2948.84L879.16 2945.8L967.33 2945.8L970.37 3024.85L970.37 3009.65L973.41 3003.57L973.41 2991.41L976.45 2988.37L976.45 2979.25L979.49 2976.21L979.49 2970.12L982.54 2967.08L982.54 2964.04L985.58 2961L985.58 2957.96L988.62 2957.96L988.62 2954.92L991.66 2954.92L991.66 2951.88L994.7 2951.88L994.7 2948.84L1006.86 2948.84L1006.86 2945.8L1125.44 2945.8L1128.48 3024.85L1128.48 3009.65L1131.52 3003.57L1131.52 2991.41L1134.56 2988.37L1134.56 2979.25L1137.6 2976.21L1137.6 2970.12L1140.64 2967.08L1140.64 2964.04L1143.68 2961L1143.68 2957.96L1146.72 2957.96L1146.72 2954.92L1149.76 3037.02L1149.76 3015.73L1152.8 3012.69L1152.8 2997.49L1155.84 2994.45L1155.84 2982.29L1158.88 2979.25L1158.88 2973.16L1161.92 2970.12L1161.92 2964.04L1164.97 2964.04L1164.97 2961L1168.01 2957.96L1168.01 2954.92L1171.05 2954.92L1171.05 2951.88L1177.13 2951.88L1177.13 2948.84L1186.25 2948.84L1186.25 2945.8L1244.02 2945.8L1247.06 3024.85L1247.06 3009.65L1250.1 3003.57L1250.1 2991.41L1253.14 2988.37L1253.14 2979.25L1256.18 2976.21L1256.18 2970.12L1259.22 2967.08L1259.22 2964.04L1262.26 2961L1262.26 2957.96L1265.3 2957.96L1265.3 2954.92L1268.34 2954.92L1268.34 2951.88L1271.38 2951.88L1271.38 2948.84L1283.54 2948.84L1283.54 2945.8L1614.96 2945.8L1616.5 2945.8" fill="none" stroke="#000" stroke-width="6.0" stroke-linejoin="round" stroke-linecap="butt"/>
<text transform="translate(90.44 2478.6) scale(1.08 1)" font-size="57" font-weight="bold">d</text>
<text x="580.71" y="2481.7" font-size="49.77" fill="#231f20">Conditional intensity functions</text>
<text x="85.32" y="2523.9" font-size="42" stroke="#000" stroke-width="0.2" stroke-linejoin="round">0</text>
<text x="109.02" y="2523.9" font-size="42" stroke="#000" stroke-width="0.2" stroke-linejoin="round">.</text>
<g transform="translate(126.22 2523.9) scale(0.4200)"><text font-size="100" clip-path="url(#c1)" stroke="#000" stroke-width="0.48">1</text></g>
<text x="64.82" y="2734.3" font-size="42" stroke="#000" stroke-width="0.2" stroke-linejoin="round">0</text>
<text x="88.52" y="2734.3" font-size="42" stroke="#000" stroke-width="0.2" stroke-linejoin="round">.</text>
<text x="104.32" y="2734.3" font-size="42" stroke="#000" stroke-width="0.2" stroke-linejoin="round">0</text>
<text x="128.82" y="2734.3" font-size="42" stroke="#000" stroke-width="0.2" stroke-linejoin="round">5</text>
<text x="129.52" y="2958.2" font-size="42" stroke="#000" stroke-width="0.2" stroke-linejoin="round">0</text>
<text x="48.21" y="3180" font-size="42" stroke="#000" stroke-width="0.2" stroke-linejoin="round">-</text>
<text x="62.62" y="3180" font-size="42" stroke="#000" stroke-width="0.2" stroke-linejoin="round">0</text>
<text x="86.32" y="3180" font-size="42" stroke="#000" stroke-width="0.2" stroke-linejoin="round">.</text>
<text x="102.62" y="3180" font-size="42" stroke="#000" stroke-width="0.2" stroke-linejoin="round">0</text>
<text x="126.52" y="3180" font-size="42" stroke="#000" stroke-width="0.2" stroke-linejoin="round">5</text>
<text x="153.22" y="3212.4" font-size="42" letter-spacing="0.9" stroke="#000" stroke-width="0.2" stroke-linejoin="round">0</text>
<g transform="translate(363.32 3212.4) scale(0.4200)"><text font-size="100" clip-path="url(#c1)" stroke="#000" stroke-width="0.48">1</text></g>
<text x="386.27" y="3212.4" font-size="42" letter-spacing="0.9" stroke="#000" stroke-width="0.2" stroke-linejoin="round">000</text>
<text x="603.9" y="3212.4" font-size="42" letter-spacing="0.9" stroke="#000" stroke-width="0.2" stroke-linejoin="round">2000</text>
<text x="847.82" y="3212.4" font-size="42" letter-spacing="0.9" stroke="#000" stroke-width="0.2" stroke-linejoin="round">3000</text>
<text x="1087.65" y="3212.4" font-size="42" letter-spacing="0.9" stroke="#000" stroke-width="0.2" stroke-linejoin="round">4000</text>
<text x="1331.02" y="3212.4" font-size="42" letter-spacing="0.9" stroke="#000" stroke-width="0.2" stroke-linejoin="round">5000</text>
<text x="1572.8" y="3212.4" font-size="42" letter-spacing="0.9" stroke="#000" stroke-width="0.2" stroke-linejoin="round">6000</text>
<text x="768.67" y="3269" font-size="46" letter-spacing="1" stroke="#000" stroke-width="0.2" stroke-linejoin="round">Time,</text>
<text x="899.73" y="3269" font-size="46" font-style="italic" stroke="#000" stroke-width="0.7" stroke-linejoin="round">t</text>
<text transform="translate(928.8 3269) scale(0.8 1)" font-size="46" stroke="#000" stroke-width="0.2" stroke-linejoin="round">(</text>
<text x="944.24" y="3269" font-size="46" stroke="#000" stroke-width="0.2" stroke-linejoin="round">s</text>
<text transform="translate(977.02 3269) scale(0.8 1)" font-size="46" stroke="#000" stroke-width="0.2" stroke-linejoin="round">)</text>
<text transform="translate(55.9 3047.88) rotate(-90)" font-size="50.06" stroke="#000" stroke-width="0.2" stroke-linejoin="round">intensity</text>
<text transform="translate(55.9 2848.46) rotate(-90) scale(0.85 1)" font-size="50" stroke="#000" stroke-width="0.2" stroke-linejoin="round">(</text>
<text transform="translate(55.9 2832.32) rotate(-90)" font-size="48" stroke="#000" stroke-width="0.2" stroke-linejoin="round">s</text>
<text transform="translate(39.6 2808.84) rotate(-90)" font-size="41" stroke="#000" stroke-width="0.2" stroke-linejoin="round">-</text>
<g transform="translate(39.6 2793.9) rotate(-90) scale(0.4100)"><text font-size="100" clip-path="url(#c1)" stroke="#000" stroke-width="0.49">1</text></g>
<text transform="translate(55.9 2768.42) rotate(-90) scale(0.85 1)" font-size="50" stroke="#000" stroke-width="0.2" stroke-linejoin="round">)</text>
</g>
</svg>
</body></html>
